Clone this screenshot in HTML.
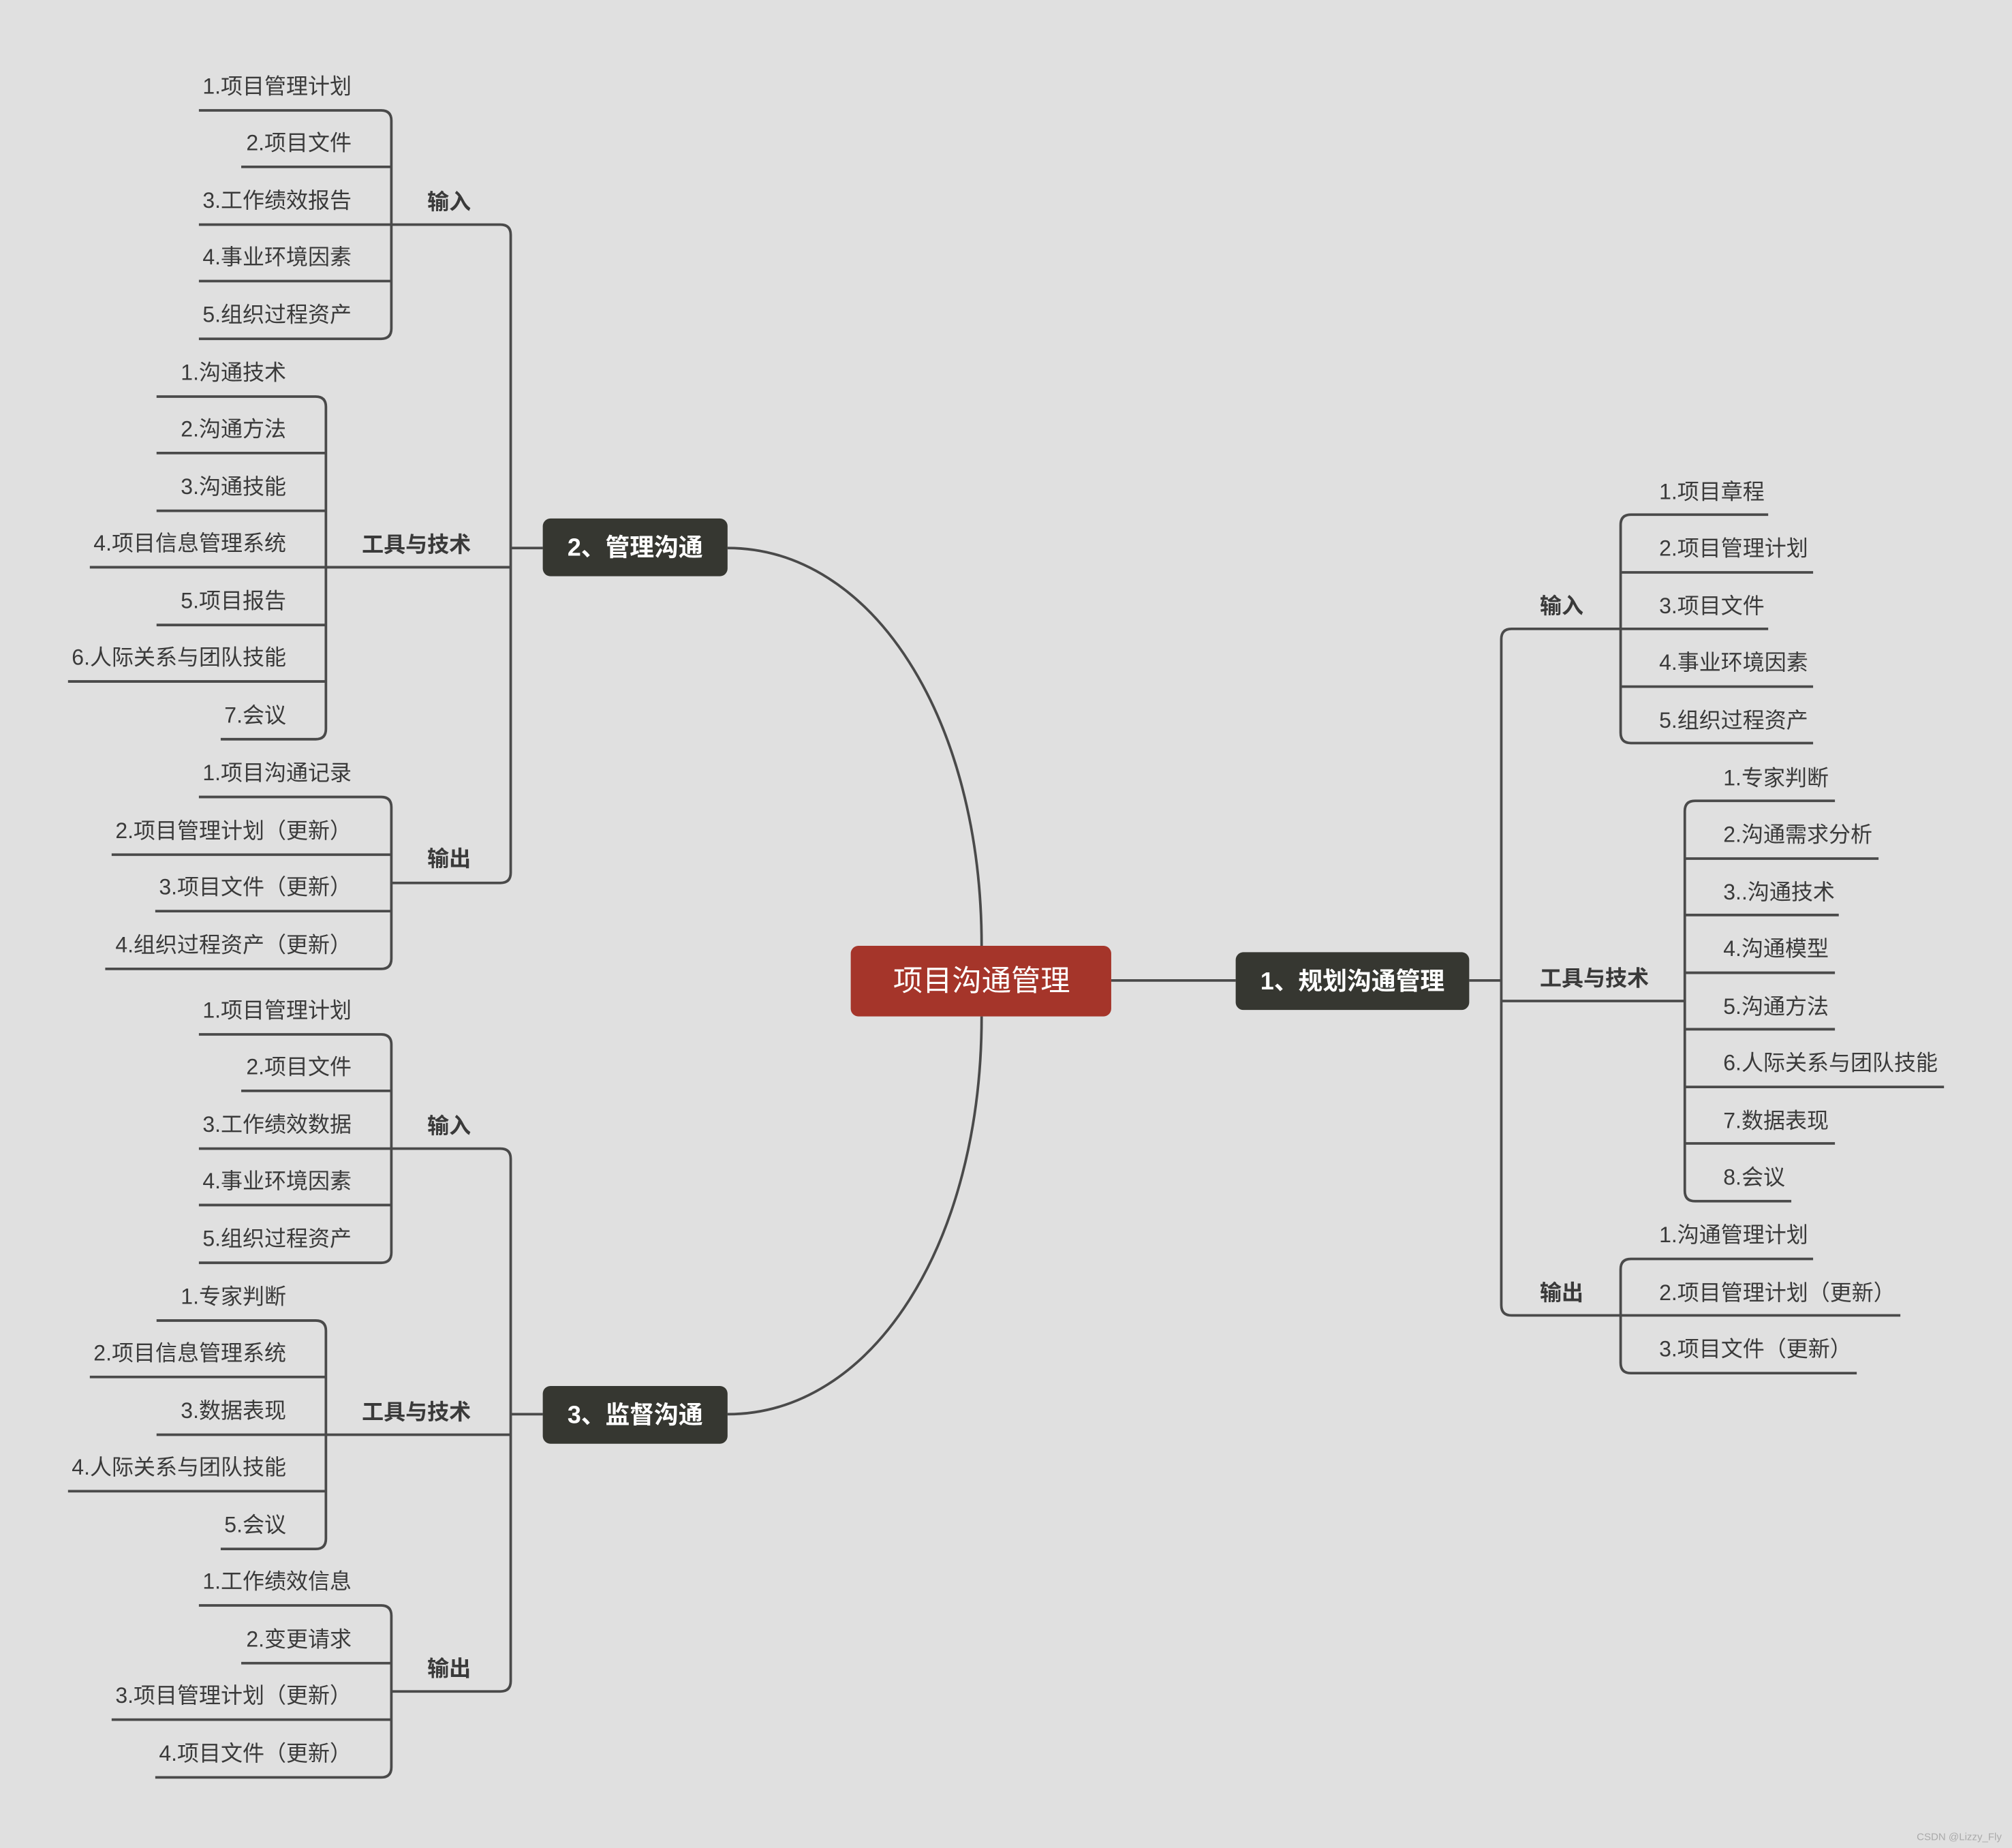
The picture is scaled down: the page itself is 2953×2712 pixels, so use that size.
<!DOCTYPE html>
<html><head><meta charset="utf-8"><style>
html,body{margin:0;padding:0;background:#e0e0e0;}
svg{display:block;}
text{font-family:"Liberation Sans","Noto Sans CJK SC",sans-serif;fill:#3a3a3a;font-size:17px;}
.b{font-weight:bold;}
.w{fill:#fff;font-weight:bold;}
</style></head><body>
<svg width="2953" height="2712" viewBox="0 0 1568 1440" xmlns="http://www.w3.org/2000/svg">
<rect width="1568" height="1440" fill="#e0e0e0"/>
<g fill="none" stroke="#4a4a4a" stroke-width="2">
<path d="M765,737 C765,560 680,427 567,427"/>
<path d="M765,792 C765,969 680,1102 567,1102"/>
<path d="M866,764 L963,764"/>
<path d="M1145,764 L1170,764 M1263,490 L1178,490 Q1170,490 1170,498 L1170,1017 Q1170,1025 1178,1025 L1263,1025 M1170,780 L1313,780"/>
<path d="M1378,401 L1271,401 Q1263,401 1263,409 L1263,571 Q1263,579 1271,579 L1413,579 M1263,446 L1413,446 M1263,490 L1378,490 M1263,535 L1413,535"/>
<path d="M1430,624 L1321,624 Q1313,624 1313,632 L1313,928 Q1313,936 1321,936 L1396,936 M1313,669 L1464,669 M1313,713 L1433,713 M1313,758 L1430,758 M1313,802 L1430,802 M1313,847 L1515,847 M1313,891 L1430,891"/>
<path d="M1413,981 L1271,981 Q1263,981 1263,989 L1263,1062 Q1263,1070 1271,1070 L1447,1070 M1263,1025 L1481,1025"/>
<path d="M423,427 L398,427 M305,175 L390,175 Q398,175 398,183 L398,680 Q398,688 390,688 L305,688 M254,442 L398,442"/>
<path d="M155,86 L297,86 Q305,86 305,94 L305,256 Q305,264 297,264 L155,264 M188,130 L305,130 M155,175 L305,175 M155,219 L305,219"/>
<path d="M122,309 L246,309 Q254,309 254,317 L254,568 Q254,576 246,576 L172,576 M122,353 L254,353 M122,398 L254,398 M70,442 L254,442 M122,487 L254,487 M53,531 L254,531"/>
<path d="M155,621 L297,621 Q305,621 305,629 L305,747 Q305,755 297,755 L82,755 M87,666 L305,666 M121,710 L305,710"/>
<path d="M423,1102 L398,1102 M305,895 L390,895 Q398,895 398,903 L398,1310 Q398,1318 390,1318 L305,1318 M254,1118 L398,1118"/>
<path d="M155,806 L297,806 Q305,806 305,814 L305,976 Q305,984 297,984 L155,984 M188,850 L305,850 M155,895 L305,895 M155,939 L305,939"/>
<path d="M122,1029 L246,1029 Q254,1029 254,1037 L254,1199 Q254,1207 246,1207 L172,1207 M70,1073 L254,1073 M122,1118 L254,1118 M53,1162 L254,1162"/>
<path d="M155,1251 L297,1251 Q305,1251 305,1259 L305,1377 Q305,1385 297,1385 L121,1385 M188,1296 L305,1296 M87,1340 L305,1340"/>
</g>
<rect x="663" y="737" width="203" height="55" rx="6" fill="#a5352a"/>
<text x="765" y="772" text-anchor="middle" style="fill:#fff;font-size:23px">项目沟通管理</text>
<rect x="963" y="742" width="182" height="45" rx="6" fill="#363731"/>
<text x="1054" y="771" text-anchor="middle" class="w" style="font-size:19px">1、规划沟通管理</text>
<rect x="423" y="404" width="144" height="45" rx="6" fill="#363731"/>
<text x="495" y="433" text-anchor="middle" class="w" style="font-size:19px">2、管理沟通</text>
<rect x="423" y="1080" width="144" height="45" rx="6" fill="#363731"/>
<text x="495" y="1109" text-anchor="middle" class="w" style="font-size:19px">3、监督沟通</text>
<text x="1200" y="478" class="b">输入</text>
<text x="1200" y="768" class="b">工具与技术</text>
<text x="1200" y="1013" class="b">输出</text>
<text x="1293" y="389">1.项目章程</text>
<text x="1293" y="433">2.项目管理计划</text>
<text x="1293" y="478">3.项目文件</text>
<text x="1293" y="522">4.事业环境因素</text>
<text x="1293" y="567">5.组织过程资产</text>
<text x="1343" y="612">1.专家判断</text>
<text x="1343" y="656">2.沟通需求分析</text>
<text x="1343" y="701">3..沟通技术</text>
<text x="1343" y="745">4.沟通模型</text>
<text x="1343" y="790">5.沟通方法</text>
<text x="1343" y="834">6.人际关系与团队技能</text>
<text x="1343" y="879">7.数据表现</text>
<text x="1343" y="923">8.会议</text>
<text x="1293" y="968">1.沟通管理计划</text>
<text x="1293" y="1013">2.项目管理计划（更新）</text>
<text x="1293" y="1057">3.项目文件（更新）</text>
<text x="367" y="163" text-anchor="end" class="b">输入</text>
<text x="367" y="430" text-anchor="end" class="b">工具与技术</text>
<text x="367" y="675" text-anchor="end" class="b">输出</text>
<g text-anchor="end">
<text x="274" y="73">1.项目管理计划</text>
<text x="274" y="117">2.项目文件</text>
<text x="274" y="162">3.工作绩效报告</text>
<text x="274" y="206">4.事业环境因素</text>
<text x="274" y="251">5.组织过程资产</text>
<text x="223" y="296">1.沟通技术</text>
<text x="223" y="340">2.沟通方法</text>
<text x="223" y="385">3.沟通技能</text>
<text x="223" y="429">4.项目信息管理系统</text>
<text x="223" y="474">5.项目报告</text>
<text x="223" y="518">6.人际关系与团队技能</text>
<text x="223" y="563">7.会议</text>
<text x="274" y="608">1.项目沟通记录</text>
<text x="274" y="653">2.项目管理计划（更新）</text>
<text x="274" y="697">3.项目文件（更新）</text>
<text x="274" y="742">4.组织过程资产（更新）</text>
<text x="274" y="793">1.项目管理计划</text>
<text x="274" y="837">2.项目文件</text>
<text x="274" y="882">3.工作绩效数据</text>
<text x="274" y="926">4.事业环境因素</text>
<text x="274" y="971">5.组织过程资产</text>
<text x="223" y="1016">1.专家判断</text>
<text x="223" y="1060">2.项目信息管理系统</text>
<text x="223" y="1105">3.数据表现</text>
<text x="223" y="1149">4.人际关系与团队技能</text>
<text x="223" y="1194">5.会议</text>
<text x="274" y="1238">1.工作绩效信息</text>
<text x="274" y="1283">2.变更请求</text>
<text x="274" y="1327">3.项目管理计划（更新）</text>
<text x="274" y="1372">4.项目文件（更新）</text>
</g>
<text x="367" y="883" text-anchor="end" class="b">输入</text>
<text x="367" y="1106" text-anchor="end" class="b">工具与技术</text>
<text x="367" y="1306" text-anchor="end" class="b">输出</text>
<text x="1560" y="1434" text-anchor="end" style="font-size:8px;fill:#aaa">CSDN @Lizzy_Fly</text>
</svg>
</body></html>
